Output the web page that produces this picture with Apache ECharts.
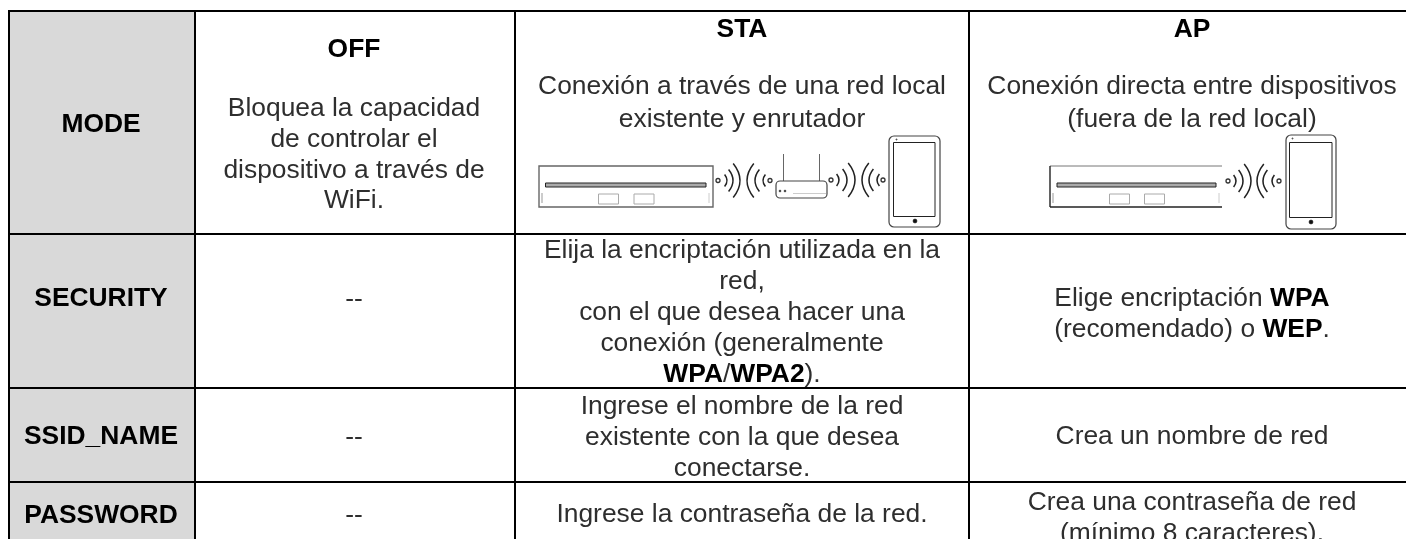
<!DOCTYPE html>
<html>
<head>
<meta charset="UTF-8">
<title>WiFi modes</title>
<script src="https://cdn.jsdelivr.net/npm/echarts@6/dist/echarts.min.js"></script>
<style>
html, body { margin: 0; padding: 0; background: #fff; }
#main { width: 1406px; height: 539px; }
</style>
</head>
<body>
<div id="main"></div>
<script type="text/javascript">
// table content
var rowLabels = ['MODE', 'SECURITY', 'SSID_NAME', 'PASSWORD'];
var colHeaders = ['OFF', 'STA', 'AP'];
var modeText = [
	'Bloquea la capacidad\nde controlar el\ndispositivo a través de\nWiFi.',
	'Conexión a través de una red local\nexistente y enrutador',
	'Conexión directa entre dispositivos\n(fuera de la red local)'
];
var securityText = [
	'--',
	'Elija la encriptación utilizada en la\nred,\ncon el que desea hacer una\nconexión (generalmente\n{b|WPA}/{b|WPA2}).',
	'Elige encriptación {b|WPA}\n(recomendado) o {b|WEP}.'
];
var ssidText = [
	'--',
	'Ingrese el nombre de la red\nexistente con la que desea\nconectarse.',
	'Crea un nombre de red'
];
var passwordText = [
	'--',
	'Ingrese la contraseña de la red.',
	'Crea una contraseña de red\n(mínimo 8 caracteres).'
];

// layout, in pixels of the 1406x539 page
var colEdges = [9, 195, 515, 969, 1420];
var colCenter = [101, 354, 742, 1192];
var rowEdges = [11, 234, 388, 482, 560];
var headerY = [50, 30, 30];
var modeY = [155, 103.5, 103.5];
var labelY = [125, 299, 437, 516];
var securityY = [300, 313, 314];
var ssidY = [438, 438, 437];
var passwordY = [516, 515, 518];
var lineH = 31;
var fontSize = 26.4;

var font = '"Liberation Sans", Arial, sans-serif';

var cells = [];
rowLabels.forEach(function (label, r) {
	cells.push({ kind: 'label', c: 0, y: labelY[r], text: label });
});
colHeaders.forEach(function (h, i) {
	cells.push({ kind: 'head', c: i + 1, y: headerY[i], text: h });
	cells.push({ kind: 'body', c: i + 1, y: modeY[i], text: modeText[i], lh: i == 0 ? 30.6 : 33 });
	cells.push({ kind: 'body', c: i + 1, y: securityY[i], text: securityText[i] });
	cells.push({ kind: 'body', c: i + 1, y: ssidY[i], text: ssidText[i] });
	cells.push({ kind: 'body', c: i + 1, y: passwordY[i], text: passwordText[i] });
});

function cellRect(api, c, r) {
	var a = api.coord([colEdges[c], rowEdges[r]]);
	var b = api.coord([colEdges[c + 1], rowEdges[r + 1]]);
	return { x: a[0], y: a[1], width: b[0] - a[0], height: b[1] - a[1] };
}

function renderBorders(params, api) {
	var children = [];
	rowLabels.forEach(function (label, r) {
		for (var c = 0; c < 4; c++) {
			children.push({
				type: 'rect',
				shape: cellRect(api, c, r),
				style: { fill: c == 0 ? '#d9d9d9' : '#fff', stroke: '#000', lineWidth: 2 }
			});
		}
	});
	return { type: 'group', children: children };
}

function renderText(params, api) {
	var d = cells[params.dataIndex];
	var pos = api.coord([colCenter[d.c], d.y]);
	var bold = d.kind != 'body';
	var lh = d.lh || lineH;
	return {
		type: 'text',
		x: pos[0],
		y: pos[1],
		style: {
			text: d.text,
			font: (bold ? 'bold ' : '') + fontSize + 'px ' + font,
			fill: bold ? '#000' : '#2e2e2e',
			align: 'center',
			verticalAlign: 'middle',
			lineHeight: lh,
			rich: {
				b: { fontFamily: font, fontSize: fontSize, fontWeight: 'bold', fill: '#000', lineHeight: lh }
			}
		}
	};
}

// line art for the devices, drawn on top of the table
var art = [];
function line(x1, y1, x2, y2, color, w) {
	art.push({ type: 'line', shape: { x1: x1, y1: y1, x2: x2, y2: y2 }, style: { stroke: color, lineWidth: w } });
}
function box(x, y, w, h, r, color, lw) {
	art.push({ type: 'rect', shape: { x: x, y: y, width: w, height: h, r: r }, style: { fill: 'none', stroke: color, lineWidth: lw } });
}
function ring(x, y, r, color, lw, fill) {
	art.push({ type: 'circle', shape: { cx: x, cy: y, r: r }, style: { fill: fill || 'none', stroke: color, lineWidth: lw } });
}
// one radio wave: x is the tip, h the half height, dir 1 bulges right, -1 bulges left
function wave(x, cy, h, dir) {
	art.push({
		type: 'bezierCurve',
		shape: { x1: x - dir * h * 0.4, y1: cy - h, x2: x - dir * h * 0.4, y2: cy + h, cpx1: x + dir * h * 0.4, cpy1: cy },
		style: { fill: 'none', stroke: '#222', lineWidth: 1.5 }
	});
}
function waves(cy, dotL, xs, dotR) {
	ring(dotL, cy, 2, '#333', 1.3);
	wave(xs[0], cy, 6, 1); wave(xs[1], cy, 11, 1); wave(xs[2], cy, 17, 1);
	wave(xs[3], cy, 17, -1); wave(xs[4], cy, 11, -1); wave(xs[5], cy, 6, -1);
	ring(dotR, cy, 2, '#333', 1.3);
}
function panel(slotX0, slotX1, r1, r2, tickL, tickR) {
	art.push({ type: 'rect', shape: { x: slotX0, y: 183, width: slotX1 - slotX0, height: 4 }, style: { fill: '#aaa', stroke: '#222', lineWidth: 1 } });
	box(r1, 194, 20, 10, 0, '#aaa', 1);
	box(r2, 194, 20, 10, 0, '#aaa', 1);
	line(tickL, 193, tickL, 203, '#999', 1);
	line(tickR, 193, tickR, 203, '#ccc', 1);
}
function phone(x, y, w, h, sx, sy, sw, sh, bx, by, lw) {
	box(x, y, w, h, 5, '#444', lw);
	box(sx, sy, sw, sh, 0, '#222', 1);
	ring(bx, by, 2, '#111', 0.5, '#111');
	ring(sx + 3, y + 3.5, 0.7, '#555', 0.5, '#555');
}

// STA picture
box(539, 166, 174, 41, 0, '#666', 1.4);
panel(545.5, 706, 598.5, 634, 542, 709);
waves(180.5, 718, [727, 733, 740, 747, 755, 763], 770);
line(783.5, 154, 783.5, 181, '#666', 1);
line(819.5, 154, 819.5, 181, '#666', 1);
box(776, 181, 51, 17, 4, '#444', 1.2);
line(793, 193.5, 826, 193.5, '#ccc', 1);
ring(780, 191, 1, '#333', 0.5, '#333');
ring(785, 191, 1, '#333', 0.5, '#333');
waves(180, 831, [839, 847, 855, 862, 869, 877], 883);
phone(889, 136, 51, 91, 893.5, 142.5, 41.5, 74, 915, 221, 1.2);

// AP picture, its panel has no right side
line(1050, 166, 1222, 166, '#777', 1);
line(1050, 166, 1050, 207, '#222', 1.4);
line(1050, 207, 1222, 207, '#222', 1.6);
panel(1057, 1216, 1109.5, 1144.5, 1053, 1219);
waves(181, 1228, [1236, 1243, 1251, 1257, 1263, 1272], 1279);
phone(1286, 135, 50, 94, 1289.5, 142.5, 42.5, 75, 1311, 222, 1.2);

var myChart = echarts.init(document.getElementById('main'), null, { renderer: 'canvas' });
var option = {
	animation: false,
	backgroundColor: '#fff',
	grid: { left: 0, right: 0, top: 0, bottom: 0 },
	xAxis: { type: 'value', min: 0, max: 1406, show: false },
	yAxis: { type: 'value', min: 0, max: 539, inverse: true, show: false },
	series: [
		{ type: 'custom', silent: true, data: [0], renderItem: renderBorders, clip: true, z: 1 },
		{ type: 'custom', silent: true, data: cells.map(function (d, i) { return i; }), renderItem: renderText, clip: false, z: 2 }
	],
	graphic: { elements: art.map(function (g) { g.silent = true; g.z = 10; return g; }) }
};
myChart.setOption(option);
</script>
</body>
</html>
